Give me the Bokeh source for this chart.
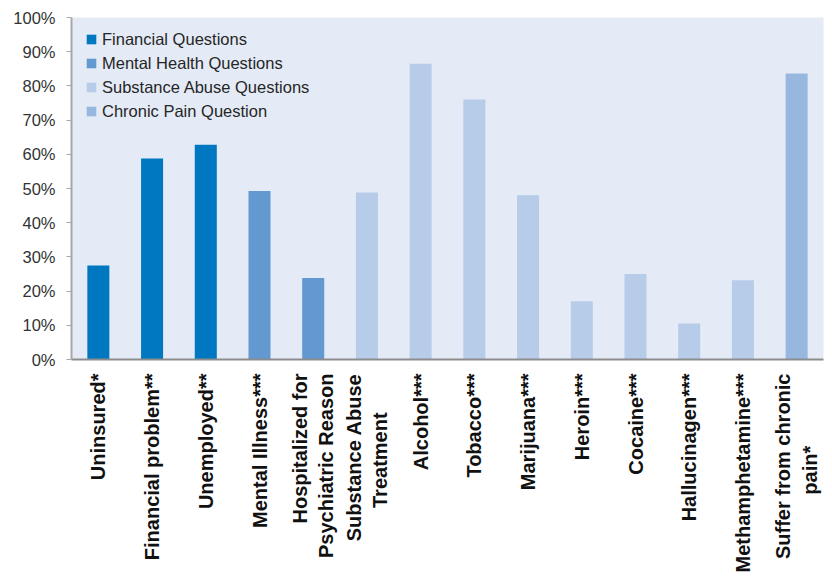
import math
from bokeh.plotting import figure
from bokeh.models import ColumnDataSource, Range1d, FactorRange, FixedTicker, NumeralTickFormatter, Legend, LegendItem
from bokeh.embed import file_html
from bokeh.resources import INLINE

# non-breaking spaces closed by a zero-width space keep the short second line centred
PAD_T = "\u00a0" * 7 + "\u200b"
PAD_P = "\u00a0" * 13 + "\u200b"
categories = ["Uninsured*", "Financial problem**", "Unemployed**", "Mental Illness***",
              "Hospitalized for\nPsychiatric Reason", "Substance Abuse\nTreatment" + PAD_T, "Alcohol***",
              "Tobacco***", "Marijuana***", "Heroin***", "Cocaine***", "Hallucinagen***",
              "Methamphetamine***", "Suffer from chronic\npain*" + PAD_P]
values = [0.275, 0.588, 0.628, 0.493, 0.238, 0.488, 0.865, 0.760, 0.480, 0.170, 0.250, 0.105, 0.232, 0.836]
groups = ["Financial Questions"] * 3 + ["Mental Health Questions"] * 2 + \
         ["Substance Abuse Questions"] * 8 + ["Chronic Pain Question"]
group_names = ["Financial Questions", "Mental Health Questions", "Substance Abuse Questions", "Chronic Pain Question"]
group_colors = ["#0077C1", "#6199D0", "#B7CCE8", "#98B7DF"]
y_ticks = [0, 0.1, 0.2, 0.3, 0.4, 0.5, 0.6, 0.7, 0.8, 0.9, 1.0]

p = figure(width=832, height=579, output_backend="svg", toolbar_location=None,
           x_range=FactorRange(*categories, range_padding=0), y_range=Range1d(0, 1),
           min_border_left=71, min_border_right=9, min_border_top=17, min_border_bottom=220)
p.background_fill_color = "#E4EBF6"
p.border_fill_color = "white"
p.outline_line_color = None
p.grid.visible = False

items = []
for g, c in zip(group_names, group_colors):
    xs = [cat for cat, gg in zip(categories, groups) if gg == g]
    ys = [v for v, gg in zip(values, groups) if gg == g]
    src = ColumnDataSource(dict(x=xs, top=ys))
    r = p.vbar(x="x", top="top", width=0.41, source=src, fill_color=c, line_color=None)
    items.append(LegendItem(label=g, renderers=[r]))

legend = Legend(items=items, location=(14, 236))
legend.background_fill_alpha = 0
legend.border_line_color = None
legend.label_text_font = "Liberation Sans"
legend.label_text_font_size = "16.5px"
legend.label_text_color = "#262626"
legend.glyph_width = 12
legend.glyph_height = 12
legend.label_height = 24
legend.spacing = 0
legend.padding = 0
legend.margin = 0
legend.label_standoff = 5
p.add_layout(legend)

ya = p.yaxis[0]
ya.ticker = FixedTicker(ticks=y_ticks)
ya.formatter = NumeralTickFormatter(format="0%")
ya.axis_line_color = "#A8A8A8"
ya.axis_line_width = 2
ya.major_tick_line_color = "#A8A8A8"
ya.major_tick_out = 5
ya.major_tick_in = 0
ya.minor_tick_line_color = None
ya.major_label_text_font = "Liberation Sans"
ya.major_label_text_font_size = "16.5px"
ya.major_label_text_color = "#333333"
ya.major_label_standoff = 11

xa = p.xaxis[0]
xa.axis_line_color = "#8C8C8C"
xa.axis_line_width = 2
xa.major_tick_line_color = None
xa.minor_tick_line_color = None
xa.major_label_orientation = math.pi / 2
xa.major_label_text_font = "Liberation Sans"
xa.major_label_text_font_style = "bold"
xa.major_label_text_font_size = "20px"
xa.major_label_text_color = "#111111"
xa.major_label_standoff = 8

open("out.html", "w").write(file_html(p, INLINE))
